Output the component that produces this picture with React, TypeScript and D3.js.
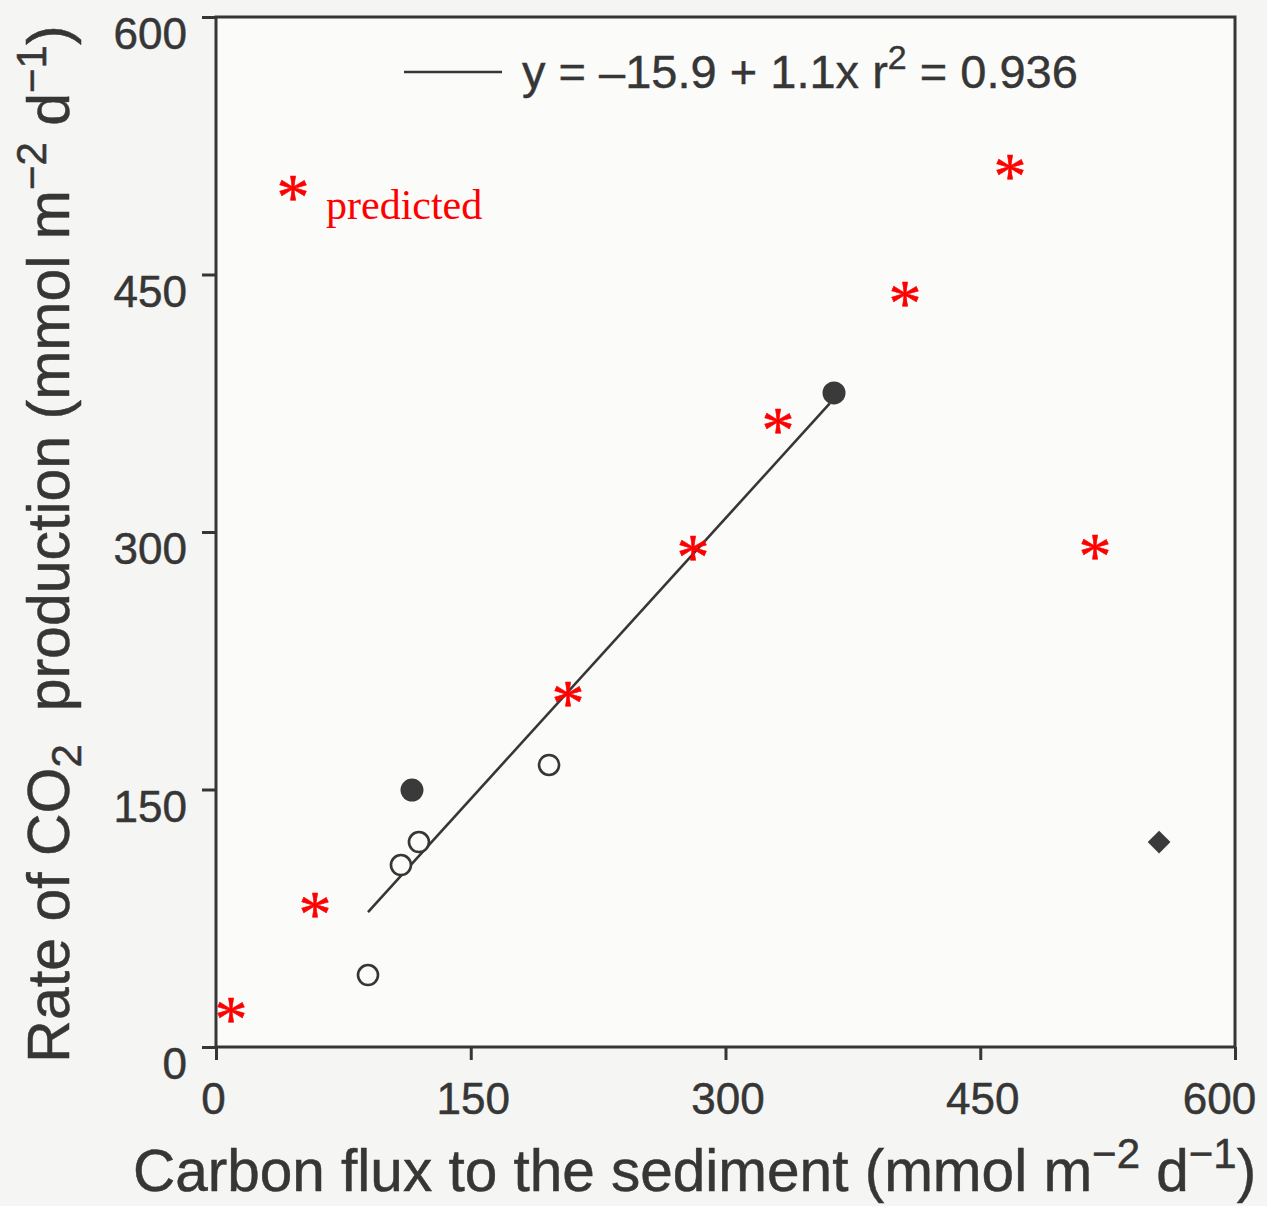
import React, { useRef, useEffect } from 'react';
import * as d3 from 'd3';

// values
const xTicks = [0, 150, 300, 450, 600];
const yTicks = [0, 150, 300, 450, 600];

const openX = [89.5, 108.9, 119.5, 196.1];
const openY = [41.9, 106.0, 119.4, 164.3];

const filledX = [115.4, 363.9];
const filledY = [149.7, 381.0];

const diamondX = [555.3];
const diamondY = [119.4];

const predX = [8.8, 58.3, 207.3, 280.9, 330.9, 405.7, 467.5, 517.6];
const predY = [21.0, 82.1, 205.0, 290.1, 364.1, 438.1, 512.0, 290.7];

// regression line as drawn
const fitX = [89.5, 361.4];
const fitY = [78.6, 374.9];

const W = 1267;
const H = 1206;
const ink = '#363636';

function App() {
  const chartRef = useRef<SVGSVGElement>(null);

  useEffect(() => {
    drawChart();
  }, []);

  const drawChart = () => {
    const svg = d3.select(chartRef.current);
    svg.selectAll('*').remove();

    const x = d3.scaleLinear().domain([0, 600]).range([216, 1235]);
    const y = d3.scaleLinear().domain([0, 600]).range([1047, 17]);

    svg.append('rect')
      .attr('width', W)
      .attr('height', H)
      .attr('fill', '#f5f5f3');

    svg.append('rect')
      .attr('x', x(0))
      .attr('y', y(600))
      .attr('width', x(600) - x(0))
      .attr('height', y(0) - y(600))
      .attr('fill', '#fbfbfa')
      .attr('stroke', ink)
      .attr('stroke-width', 3);

    const tickText = (sel: any) => sel
      .attr('font-family', '"Liberation Sans", Arial, sans-serif')
      .attr('font-size', 44)
      .attr('fill', ink)
      .attr('stroke', ink)
      .attr('stroke-width', 0.5);

    const xAxis = svg.append('g')
      .attr('transform', `translate(0,${y(0)})`)
      .call(d3.axisBottom(x).tickValues(xTicks).tickSize(13).tickPadding(23).tickSizeOuter(0).tickFormat(d3.format('d')));
    xAxis.select('.domain').remove();
    xAxis.selectAll('line').attr('stroke', ink).attr('stroke-width', 3);
    xAxis.selectAll('text')
      .call(tickText)
      .attr('dx', (d: any) => (d === 600 ? -16 : d === 0 ? -3 : 2));

    const yAxis = svg.append('g')
      .attr('transform', `translate(${x(0)},0)`)
      .call(d3.axisLeft(y).tickValues(yTicks).tickSize(14).tickPadding(15).tickSizeOuter(0).tickFormat(d3.format('d')));
    yAxis.select('.domain').remove();
    yAxis.selectAll('line').attr('stroke', ink).attr('stroke-width', 3);
    yAxis.selectAll('text')
      .call(tickText)
      .attr('dy', '0.72em');

    // regression line
    const line = d3.line<number>()
      .x((d, i) => x(fitX[i]))
      .y(d => y(d));
    svg.append('path')
      .datum(fitY)
      .attr('fill', 'none')
      .attr('stroke', ink)
      .attr('stroke-width', 2.6)
      .attr('d', line);

    // open circles
    svg.selectAll('.open')
      .data(openX)
      .enter().append('circle')
      .attr('class', 'open')
      .attr('cx', d => x(d))
      .attr('cy', (d, i) => y(openY[i]))
      .attr('r', 10)
      .attr('fill', '#fbfbfa')
      .attr('stroke', ink)
      .attr('stroke-width', 2.6);

    // filled circles
    svg.selectAll('.filled')
      .data(filledX)
      .enter().append('circle')
      .attr('class', 'filled')
      .attr('cx', d => x(d))
      .attr('cy', (d, i) => y(filledY[i]))
      .attr('r', 11.5)
      .attr('fill', '#3a3a3a');

    // diamond
    svg.selectAll('.diamond')
      .data(diamondX)
      .enter().append('path')
      .attr('class', 'diamond')
      .attr('transform', (d, i) => `translate(${x(d)},${y(diamondY[i])})`)
      .attr('d', d3.symbol(d3.symbolDiamond2, 330)())
      .attr('fill', '#3a3a3a');

    // predicted asterisks
    const star = (sel: any) => sel
      .attr('font-family', '"Liberation Serif", "Times New Roman", serif')
      .attr('font-size', 66)
      .attr('text-anchor', 'middle')
      .attr('fill', '#ff0000')
      .attr('stroke', '#ff0000')
      .attr('stroke-width', 0.6)
      .attr('dy', '0.46em')
      .text('*');

    svg.selectAll('.pred')
      .data(predX)
      .enter().append('text')
      .attr('class', 'pred')
      .attr('x', d => x(d))
      .attr('y', (d, i) => y(predY[i]))
      .call(star);

    // legends
    svg.append('text')
      .attr('x', 293)
      .attr('y', 189)
      .call(star);
    svg.append('text')
      .attr('x', 326)
      .attr('y', 219)
      .attr('font-family', '"Liberation Serif", "Times New Roman", serif')
      .attr('font-size', 42)
      .attr('fill', '#ff0000')
      .text('predicted');

    svg.append('line')
      .attr('x1', 404).attr('x2', 502)
      .attr('y1', 72).attr('y2', 72)
      .attr('stroke', ink)
      .attr('stroke-width', 2.6);

    const eq = svg.append('text')
      .attr('x', 522)
      .attr('y', 88)
      .attr('font-family', '"Liberation Sans", Arial, sans-serif')
      .attr('font-size', 47)
      .attr('fill', ink)
      .attr('stroke', ink)
      .attr('stroke-width', 0.4);
    eq.append('tspan').text('y = \u201315.9 + 1.1x r');
    eq.append('tspan').attr('font-size', 34).attr('dy', -19).text('2');
    eq.append('tspan').attr('dy', 19).text(' = 0.936');

    // axis titles
    const xt = svg.append('text')
      .attr('x', 133)
      .attr('y', 1191)
      .attr('font-family', '"Liberation Sans", Arial, sans-serif')
      .attr('font-size', 58.5)
      .attr('fill', ink)
      .attr('stroke', ink)
      .attr('stroke-width', 0.5);
    xt.append('tspan').text('Carbon flux to the sediment (mmol m');
    xt.append('tspan').attr('font-size', 42).attr('dy', -23).text('\u22122');
    xt.append('tspan').attr('dy', 23).text(' d');
    xt.append('tspan').attr('font-size', 42).attr('dy', -23).text('\u22121');
    xt.append('tspan').attr('dy', 23).text(')');

    const yt = svg.append('text')
      .attr('transform', 'translate(69,544) rotate(-90)')
      .attr('text-anchor', 'middle')
      .attr('font-family', '"Liberation Sans", Arial, sans-serif')
      .attr('font-size', 59)
      .attr('fill', ink)
      .attr('stroke', ink)
      .attr('stroke-width', 0.5);
    yt.append('tspan').text('Rate of CO');
    yt.append('tspan').attr('font-size', 42).attr('dy', 12).text('2');
    yt.append('tspan').attr('dy', -12).text('\u00a0 production (mmol m');
    yt.append('tspan').attr('font-size', 42).attr('dy', -23).text('\u22122');
    yt.append('tspan').attr('dy', 23).text(' d');
    yt.append('tspan').attr('font-size', 42).attr('dy', -23).text('\u22121');
    yt.append('tspan').attr('dy', 23).text(')');
  };

  return (
    <svg
      ref={chartRef}
      width={W}
      height={H}
      style={{ position: 'absolute', left: 0, top: 0, display: 'block' }}
    ></svg>
  );
}

export default App;
